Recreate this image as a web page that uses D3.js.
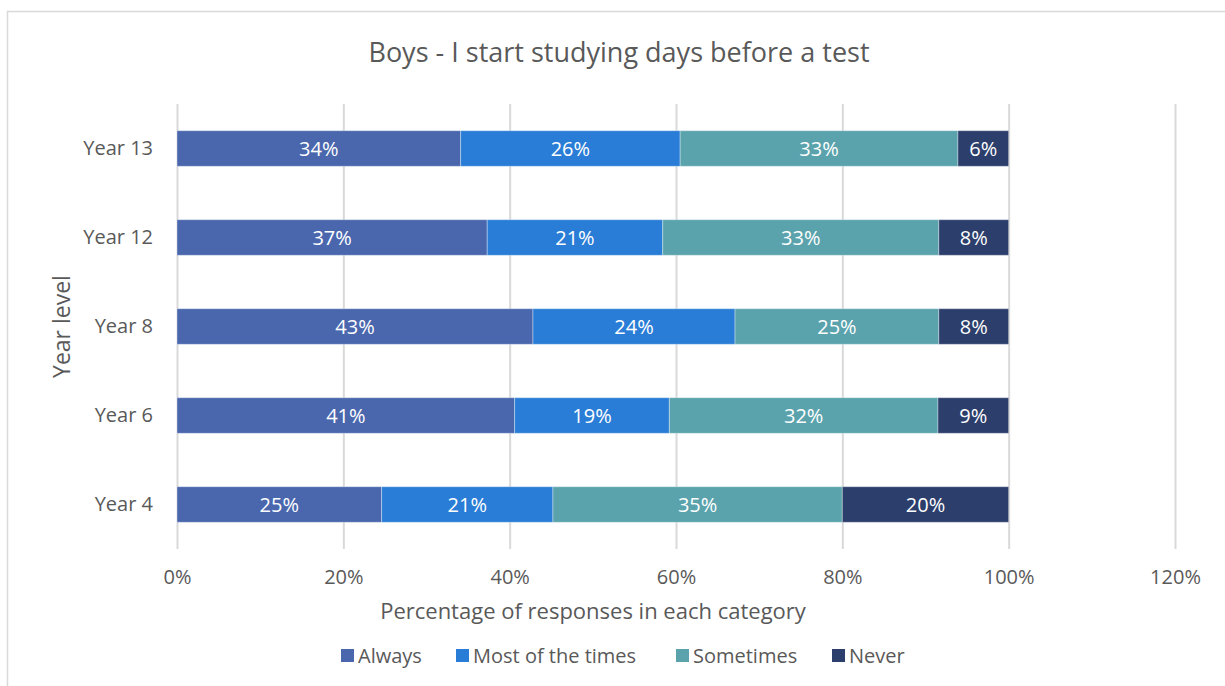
<!DOCTYPE html>
<html>
<head>
<meta charset="utf-8">
<script src="https://cdn.jsdelivr.net/npm/d3@7"></script>
<style>
  body { margin: 0; background: #fff; }
  text { font-family: "Open Sans", "Liberation Sans", sans-serif; }
</style>
</head>
<body>
<div id="chart"></div>
<script>
// data (percent of responses)
var years = ["Year 13", "Year 12", "Year 8", "Year 6", "Year 4"];
var seriesNames = ["Always", "Most of the times", "Sometimes", "Never"];
var always    = [34.1, 37.3, 42.8, 40.6, 24.6];
var mostTimes = [26.4, 21.1, 24.3, 18.6, 20.6];
var sometimes = [33.4, 33.2, 24.5, 32.3, 34.8];
var never     = [6.1, 8.4, 8.4, 8.5, 20.0];
var xTicks = [0, 20, 40, 60, 80, 100, 120];
var colors = ["#4a67ae", "#2a7dd6", "#5aa3ad", "#2c3e6b"];

var width = 1225, height = 686;
var plot = {left: 177, right: 1175, top: 104, bottom: 549};

var svg = d3.select("#chart").append("svg")
  .attr("width", width)
  .attr("height", height);

// outer chart frame
svg.append("path")
  .attr("d", "M7.5," + height + "V11.5H" + width)
  .attr("fill", "none")
  .attr("stroke", "#d9d9d9")
  .attr("stroke-width", 1.5);

var x = d3.scaleLinear().domain([0, 120]).range([plot.left, plot.right]);
var y = d3.scaleBand().domain(years).range([plot.top, plot.bottom]).paddingInner(0.6).paddingOuter(0.3);

// title
svg.append("text")
  .attr("x", 619).attr("y", 62)
  .attr("text-anchor", "middle")
  .style("font-size", "27px")
  .style("fill", "#595959")
  .text("Boys - I start studying days before a test");

// grid lines + x axis
var xAxis = svg.append("g")
  .attr("transform", "translate(0," + plot.bottom + ")")
  .call(d3.axisBottom(x).tickValues(xTicks).tickSize(plot.top - plot.bottom).tickFormat(function(d) { return d + "%"; }));
xAxis.select(".domain").remove();
xAxis.selectAll(".tick line").attr("stroke", "#d9d9d9").attr("stroke-width", 2);
xAxis.selectAll(".tick text")
  .attr("y", 21)
  .style("font-size", "20px")
  .style("fill", "#595959");

// y axis labels
var yAxis = svg.append("g")
  .attr("transform", "translate(" + plot.left + ",0)")
  .call(d3.axisLeft(y).tickSize(0).tickPadding(24));
yAxis.select(".domain").remove();
yAxis.selectAll(".tick text")
  .style("font-size", "20px")
  .style("fill", "#595959");

// stacked bars
var rows = years.map(function(yr, i) {
  return {year: yr, Always: always[i], "Most of the times": mostTimes[i], Sometimes: sometimes[i], Never: never[i]};
});
var stacked = d3.stack().keys(seriesNames)(rows);

var layers = svg.selectAll("g.layer").data(stacked)
  .enter().append("g")
  .attr("class", "layer")
  .attr("fill", function(d, i) { return colors[i]; });

layers.selectAll("rect").data(function(d) { return d; })
  .enter().append("rect")
  .attr("x", function(d) { return x(d[0]); })
  .attr("y", function(d) { return y(d.data.year); })
  .attr("width", function(d) { return x(d[1]) - x(d[0]); })
  .attr("height", y.bandwidth())
  .attr("stroke", "#ffffff")
  .attr("stroke-opacity", 0.35)
  .attr("stroke-width", 1);

layers.selectAll("text").data(function(d) { return d; })
  .enter().append("text")
  .attr("x", function(d) { return (x(d[0]) + x(d[1])) / 2; })
  .attr("y", function(d) { return y(d.data.year) + y.bandwidth() / 2; })
  .attr("dy", "0.35em")
  .attr("text-anchor", "middle")
  .style("font-size", "20px")
  .style("fill", "#ffffff")
  .text(function(d) { return Math.round(d[1] - d[0]) + "%"; });

// axis titles
svg.append("text")
  .attr("x", 593).attr("y", 619)
  .attr("text-anchor", "middle")
  .style("font-size", "22px")
  .style("fill", "#595959")
  .text("Percentage of responses in each category");

svg.append("text")
  .attr("transform", "translate(70," + ((plot.top + plot.bottom) / 2) + ") rotate(-90)")
  .attr("text-anchor", "middle")
  .style("font-size", "23px")
  .style("fill", "#595959")
  .text("Year level");

// legend
var legendX = [341, 456, 676, 832];
var legend = svg.append("g").attr("class", "legend");
legend.selectAll("g").data(seriesNames)
  .enter().append("g")
  .each(function(d, i) {
    var g = d3.select(this);
    g.append("rect")
      .attr("x", legendX[i]).attr("y", 649)
      .attr("width", 13).attr("height", 13)
      .attr("fill", colors[i]);
    g.append("text")
      .attr("x", legendX[i] + 17).attr("y", 656)
      .attr("dy", "0.35em")
      .style("font-size", "20px")
      .style("fill", "#595959")
      .text(d);
  });
</script>
</body>
</html>
